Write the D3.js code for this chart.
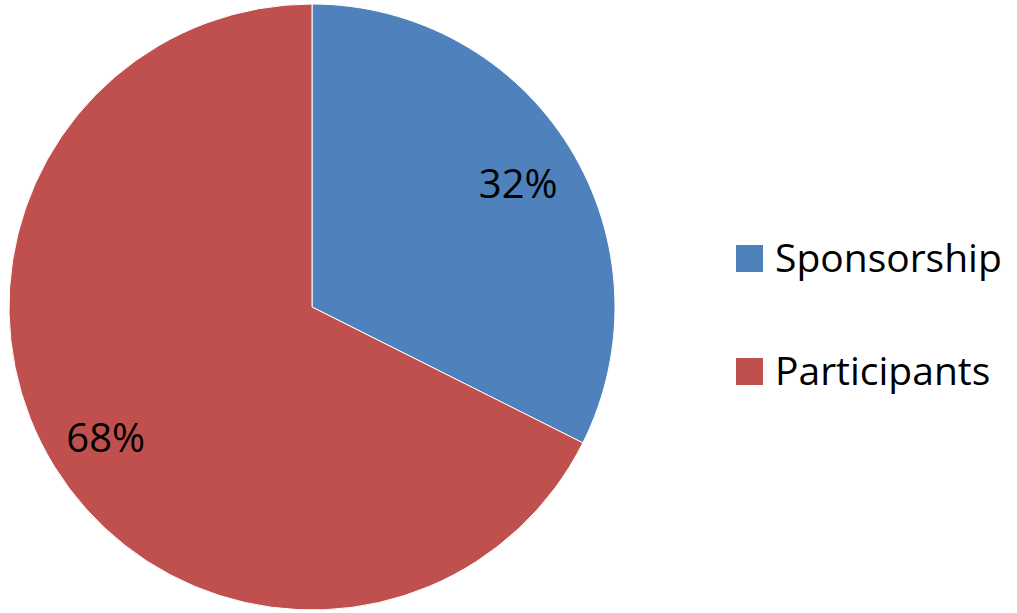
<!DOCTYPE html>
<html>
<head>
<meta charset="utf-8">
<script src="https://cdn.jsdelivr.net/npm/d3@7"></script>
<style>
  body { margin: 0; background: #fff; }
  svg text { font-family: 'Open Sans', 'Liberation Sans', sans-serif; }
</style>
</head>
<body>
<svg id="chart" width="1017" height="613"></svg>
<script>
const categories = ['Sponsorship', 'Participants'];
const values = [32.4, 67.6];
const colors = ['#4f81bd', '#c0504d'];

const svg = d3.select('#chart');
const cx = 312, cy = 307, radius = 303;

const color = d3.scaleOrdinal().domain(categories).range(colors);
const data = categories.map((c, i) => ({ name: c, value: values[i] }));

const pie = d3.pie().sort(null).value(d => d.value);
const arc = d3.arc().innerRadius(0).outerRadius(radius);
const labelArc = d3.arc().innerRadius(radius * 0.8).outerRadius(radius * 0.8);

const g = svg.append('g').attr('transform', 'translate(' + cx + ',' + cy + ')');

g.selectAll('path.slice')
  .data(pie(data))
  .enter()
  .append('path')
  .attr('class', 'slice')
  .attr('d', arc)
  .style('fill', d => color(d.data.name))
  .style('stroke', '#fff')
  .style('stroke-width', 1);

g.selectAll('text.pct')
  .data(pie(data))
  .enter()
  .append('text')
  .attr('class', 'pct')
  .attr('transform', d => 'translate(' + labelArc.centroid(d) + ')')
  .attr('text-anchor', 'middle')
  .attr('dy', '0.45em')
  .style('font-size', '40px')
  .style('fill', '#000')
  .text(d => Math.round(d.data.value) + '%');

// legend
const legend = svg.append('g').attr('transform', 'translate(736,245)');
const item = legend.selectAll('g.item')
  .data(categories)
  .enter()
  .append('g')
  .attr('class', 'item')
  .attr('transform', (d, i) => 'translate(0,' + i * 113 + ')');

item.append('rect')
  .attr('width', 27)
  .attr('height', 27)
  .style('fill', d => color(d));

item.append('text')
  .attr('x', 39)
  .attr('y', 27)
  .style('font-size', '39px')
  .style('fill', '#000')
  .text(d => d);
</script>
</body>
</html>
